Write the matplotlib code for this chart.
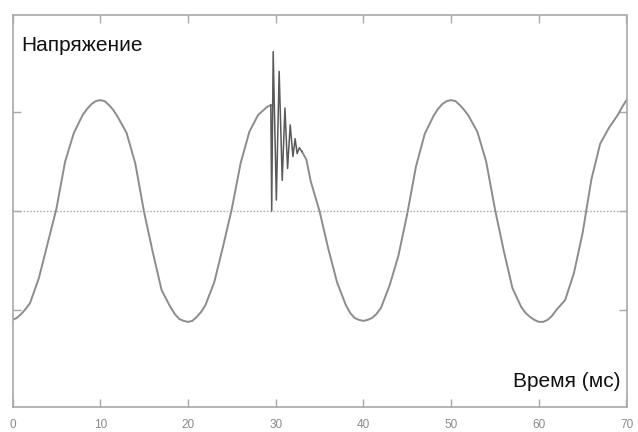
import matplotlib
matplotlib.use('Agg')
import matplotlib.pyplot as plt

# waveform (ms, relative voltage)
t_before = [0, 0.5, 1, 1.5, 2, 3, 4, 5, 6, 7, 8, 8.5, 9, 9.5, 10, 10.5, 11, 11.5, 12,
            13, 14, 15, 16, 17, 18, 18.5, 19, 19.5, 20, 20.5, 21, 21.5, 22,
            23, 24, 25, 26, 27, 28, 29, 29.2, 29.45]
v_before = [-1.10, -1.08, -1.04, -0.99, -0.93, -0.68, -0.33, 0.02, 0.50, 0.79, 0.97,
            1.03, 1.08, 1.11, 1.12, 1.11, 1.07, 1.02, 0.95,
            0.79, 0.48, -0.01, -0.42, -0.80, -0.97, -1.04, -1.09, -1.11, -1.12,
            -1.11, -1.07, -1.02, -0.95,
            -0.72, -0.36, 0.02, 0.48, 0.80, 0.97, 1.05, 1.06, 1.07]

# transient burst (switching surge)
t_burst = [29.45, 29.55, 29.72, 30.08, 30.4, 30.75, 31.06, 31.36, 31.66, 31.97,
           32.22, 32.45, 32.7, 33.0]
v_burst = [1.07, 0.0, 1.61, 0.11, 1.41, 0.31, 1.04, 0.43, 0.87, 0.55,
           0.73, 0.58, 0.64, 0.60]

t_after = [33.0, 33.5, 34, 35, 36, 37, 38, 38.5, 39, 39.5, 40, 40.5, 41, 41.5, 42,
           43, 44, 45, 46, 47, 48, 48.5, 49, 49.5, 50, 50.5, 51, 51.5, 52,
           53, 54, 55, 56, 57, 58, 58.5, 59, 59.5, 60, 60.5, 61, 61.5, 62,
           63, 64, 65, 66, 67, 68, 69, 69.5, 70]
v_after = [0.60, 0.52, 0.30, 0.0, -0.38, -0.72, -0.95, -1.03, -1.08, -1.10, -1.11,
           -1.10, -1.08, -1.04, -0.98,
           -0.75, -0.45, -0.03, 0.45, 0.78, 0.96, 1.03, 1.08, 1.11, 1.12, 1.11,
           1.07, 1.02, 0.96,
           0.80, 0.50, 0.02, -0.40, -0.78, -0.97, -1.03, -1.07, -1.10, -1.12,
           -1.12, -1.10, -1.06, -1.00,
           -0.90, -0.63, -0.22, 0.32, 0.68, 0.84, 0.97, 1.05, 1.12]

x_ticks = [0, 10, 20, 30, 40, 50, 60, 70]
y_ticks = [-1, 0, 1]

plt.rcParams['font.family'] = ['Liberation Sans', 'DejaVu Sans']

fig = plt.figure(figsize=(6.38, 4.32), dpi=100)
ax = fig.add_axes([12.5 / 638, 1 - 407 / 432, 614 / 638, 392 / 432])

ax.plot([0, 70], [0, 0], ls=(0, (1.2, 1.2)), color='#b0b0b0', lw=1.0)
ax.plot(t_before, v_before, color='#8c8c8c', lw=1.4)
ax.plot(t_after, v_after, color='#8c8c8c', lw=1.4)
ax.plot(t_burst, v_burst, color='#5a5a5a', lw=1.1)

ax.set_xlim(0, 70)
ax.set_ylim(-1.98, 1.98)
ax.set_xticks(x_ticks)
ax.set_yticks(y_ticks)
ax.set_yticklabels([])
ax.tick_params(direction='in', length=6, width=1, color='#a8a8a8',
               top=True, right=True, labelsize=8.5, labelcolor='#8a8a8a', pad=8.5)
for s in ax.spines.values():
    s.set_color('#a8a8a8')
    s.set_linewidth(1.2)

ax.text(0.015, 0.922, 'Напряжение', transform=ax.transAxes, fontsize=15,
        ha='left', va='center', color='#111111')
ax.text(0.99, 0.065, 'Время (мс)', transform=ax.transAxes, fontsize=15,
        ha='right', va='center', color='#111111')

fig.savefig('out.png', dpi=100)
